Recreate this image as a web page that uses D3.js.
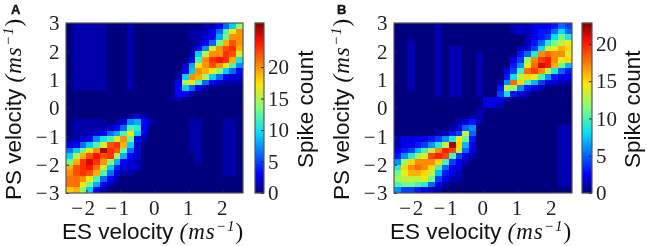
<!DOCTYPE html>
<html>
<head>
<meta charset="utf-8">
<script src="https://cdn.jsdelivr.net/npm/d3@7"></script>
<style>
  html, body { margin: 0; padding: 0; background: #fff; }
  svg { display: block; filter: blur(0.5px); }
  .tick text { font-family: "Liberation Serif", serif; font-size: 21px; fill: #222; }
  .tick line { stroke: #222; }
  .signed .tick text { letter-spacing: 1.5px; }
  .label { font-family: "Liberation Sans", sans-serif; font-size: 22.5px; fill: #111; }
  .label .math { font-family: "Liberation Serif", serif; font-style: italic; font-size: 23px; letter-spacing: 1px; }
  .letter { font-family: "Liberation Sans", sans-serif; font-weight: bold; font-size: 13px; fill: #111; stroke: #111; stroke-width: 0.4px; }
  .cell { shape-rendering: crispEdges; }
</style>
</head>
<body>
<div id="chart"></div>
<script>
// spike counts, rows run from PS = 3 down to PS = -3, columns from ES = -2.6 to 2.6
const countsA = [
  [0,1,1,1,1,1,0,0,0,1,0,0,0,0,0,0,0,0,0,0,1,1,3,6,9,14],
  [0,1,1,1,1,1,0,0,0,1,0,0,0,0,0,0,0,0,1,1,1,3,6,12,17,20],
  [0,1,1,1,1,1,0,0,0,1,0,0,0,0,0,0,0,0,1,1,2,3,8,13,20,20],
  [0,1,1,1,1,1,0,0,0,1,0,0,0,0,0,0,0,0,0,1,3,6,13,19,22,20],
  [0,1,1,1,1,1,0,0,0,1,0,0,0,0,0,0,0,0,1,3,7,16,20,22,23,19],
  [0,1,1,1,1,1,0,0,0,1,0,0,0,0,0,0,0,0,1,9,15,20,20,23,22,16],
  [0,1,1,1,1,1,0,0,0,1,0,0,0,0,0,0,0,0,3,12,20,23,24,23,19,10],
  [0,1,1,1,1,1,0,0,0,1,0,0,0,0,0,0,0,2,8,17,20,22,20,17,12,7],
  [0,1,1,1,1,1,0,0,0,1,0,0,0,0,0,0,0,3,9,20,19,17,14,9,6,3],
  [0,1,1,1,1,1,0,0,0,1,0,0,0,0,0,0,1,9,20,19,15,9,6,3,2,2],
  [0,1,1,1,1,1,0,0,0,1,0,0,0,0,0,0,3,15,17,12,6,3,2,1,1,1],
  [0,1,1,1,1,1,0,0,0,1,0,0,0,0,0,0,3,9,6,3,1,0,0,0,0,0],
  [0,0,0,0,0,0,0,0,0,0,0,0,0,0,0,0,3,3,1,0,0,0,0,0,0,0],
  [0,0,0,0,0,0,0,0,0,0,0,0,0,0,0,1,1,0,0,0,0,0,0,0,0,0],
  [0,0,0,0,0,0,0,0,0,0,0,0,0,0,0,0,0,0,0,0,0,0,0,0,0,0],
  [0,0,0,0,0,0,0,0,0,0,0,0,0,0,0,0,0,0,0,0,0,0,0,0,0,0],
  [0,0,0,0,0,0,0,0,0,1,2,1,0,0,0,0,0,0,0,0,0,0,0,0,0,0],
  [0,1,1,1,1,1,0,1,2,7,8,3,1,0,0,0,0,0,1,1,0,0,0,1,1,0],
  [0,1,1,1,1,1,2,3,6,12,11,3,0,0,0,0,0,0,1,1,0,0,0,1,1,0],
  [0,1,1,1,2,3,6,8,12,17,9,2,0,0,0,0,0,0,1,1,0,0,0,1,1,0],
  [1,1,2,3,7,10,12,16,20,13,3,1,0,0,0,0,0,0,1,1,0,0,0,1,1,0],
  [2,3,6,9,12,16,22,23,19,9,2,0,0,0,0,0,0,0,1,1,0,0,0,1,1,0],
  [6,9,13,17,20,26,23,22,13,6,2,0,0,0,0,0,0,0,1,1,0,0,0,1,1,0],
  [9,15,19,22,24,22,23,15,8,3,2,0,0,0,0,0,0,0,0,1,0,0,0,1,1,0],
  [13,19,23,25,23,20,14,8,3,2,1,0,0,0,0,0,0,0,0,1,0,0,0,1,1,0],
  [19,22,23,24,21,16,9,4,2,2,2,0,0,0,0,0,0,0,0,0,0,0,0,1,1,0],
  [20,22,23,22,19,12,6,2,1,1,0,0,0,0,0,0,0,0,0,0,0,0,0,1,1,0],
  [21,21,20,17,12,6,3,1,0,0,0,0,0,0,0,0,0,0,0,0,0,0,0,0,0,0],
  [21,21,17,13,8,3,1,0,0,0,0,0,0,0,0,0,0,0,0,0,0,0,0,0,0,0],
  [18,19,14,9,3,1,0,0,0,0,0,0,0,0,0,0,0,0,0,0,0,0,0,0,0,0]
]

const countsB = [
  [0,0,0,0,0,0,1,0,0,0,0,0,0,0,0,0,0,1,1,1,2,2,2,3,5,4],
  [0,0,0,0,0,0,1,0,0,0,0,0,0,0,0,0,0,1,2,1,2,3,3,5,8,5],
  [0,0,0,0,0,0,1,0,0,0,0,0,0,0,0,0,0,0,0,1,2,3,4,8,11,9],
  [0,0,1,0,0,0,1,0,0,0,0,0,0,0,0,0,0,0,0,1,3,5,9,11,13,14],
  [0,0,1,0,0,0,1,0,1,1,0,0,0,0,0,0,0,0,1,2,4,8,13,14,16,15],
  [0,0,1,0,0,0,1,0,1,1,0,0,1,0,0,0,0,0,3,5,9,17,18,17,17,14],
  [0,0,1,0,0,0,1,0,1,1,0,0,1,0,0,0,0,2,4,12,17,19,20,17,14,15],
  [0,0,1,0,0,0,1,0,1,1,0,0,1,0,0,0,0,3,6,14,18,21,20,16,11,7],
  [0,0,1,0,0,0,1,0,1,1,0,0,1,0,0,0,2,4,10,18,19,17,13,9,5,3],
  [0,0,1,0,0,0,1,0,1,1,0,0,1,0,0,0,3,8,13,15,14,10,6,3,2,2],
  [0,0,1,0,0,0,1,0,1,1,0,0,1,0,0,1,6,18,15,10,7,4,2,2,1,1],
  [0,0,1,0,0,0,1,0,1,1,0,0,1,0,0,3,13,12,6,3,2,1,0,0,0,0],
  [0,0,0,0,0,0,1,0,1,1,0,0,1,0,0,4,8,3,2,1,0,0,0,0,0,0],
  [0,0,0,0,0,0,0,0,0,0,0,0,0,2,2,2,1,0,0,0,0,0,0,0,0,0],
  [0,0,0,0,0,0,0,0,0,0,0,0,0,2,2,1,0,0,0,0,0,0,0,0,0,0],
  [0,0,0,0,0,0,0,0,0,0,0,0,1,0,0,0,0,0,0,0,0,0,0,0,0,0],
  [0,0,0,0,0,0,0,0,0,0,0,1,1,0,0,0,0,0,0,0,0,0,0,0,0,0],
  [0,0,0,0,0,0,0,0,0,1,2,3,1,0,0,0,0,0,0,0,0,0,0,0,0,0],
  [0,0,0,0,0,0,0,0,1,2,5,6,0,0,0,0,0,0,0,0,0,0,0,0,1,1],
  [0,0,0,0,0,0,1,1,3,4,13,5,0,0,0,0,0,0,0,0,0,0,0,0,1,1],
  [1,2,2,2,2,3,4,6,9,14,11,3,0,0,0,0,0,0,0,0,0,0,0,0,1,1],
  [1,2,2,3,4,6,9,13,22,15,7,2,0,0,0,0,0,0,0,0,0,0,0,0,1,1],
  [2,3,4,7,10,13,17,20,19,13,5,2,0,0,0,0,0,0,0,0,0,0,0,0,1,1],
  [3,6,9,12,14,19,20,19,10,4,2,1,0,0,0,0,0,0,0,0,0,0,0,0,1,1],
  [6,12,15,17,17,17,15,10,4,2,1,0,0,0,0,0,0,0,0,0,0,0,0,0,1,1],
  [9,15,17,18,17,15,10,5,2,2,0,0,0,0,0,0,0,0,0,0,0,0,0,0,1,1],
  [11,14,16,16,15,13,7,3,2,1,0,0,0,0,0,0,0,0,0,0,0,0,0,0,1,1],
  [12,13,13,13,14,11,4,2,1,1,0,0,0,0,0,0,0,0,0,0,0,0,0,0,1,1],
  [10,11,11,10,9,5,2,1,0,0,0,0,0,0,0,0,0,0,0,0,0,0,0,0,1,1],
  [6,4,4,3,2,1,1,0,0,0,0,0,0,0,0,0,0,0,0,0,0,0,0,0,0,0]
]

const xTicks = [-2, -1, 0, 1, 2]
const yTicks = [-3, -2, -1, 0, 1, 2, 3]
const barTicksA = [0, 5, 10, 15, 20]
const barTicksB = [0, 5, 10, 15, 20]
const maxA = 27
const maxB = 22.8

const jetStops = [0, 0.11, 0.35, 0.5, 0.64, 0.89, 1]
const jetColors = ['#00007f', '#0000ff', '#00e0ff', '#7dff7a', '#ffe600', '#ff1000', '#7f0000']

const width = 648
const height = 246
const plotTop = 23
const plotBottom = 193
const xDomain = [-2.6, 2.6]
const yDomain = [-3, 3]

const svg = d3
  .select('#chart')
  .append('svg')
  .attr('width', width)
  .attr('height', height)

function drawPanel(counts, maxCount, barTicks, letter, opts) {
  const color = d3.scaleLinear().domain(jetStops.map(s => s * maxCount)).range(jetColors)
  const x = d3.scaleLinear().domain(xDomain).range([opts.left, opts.right])
  const y = d3.scaleLinear().domain(yDomain).range([plotBottom, plotTop])
  const g = svg.append('g')

  /* Heat cells */
  counts.forEach((row, r) => {
    row.forEach((v, c) => {
      const x0 = xDomain[0] + c * 0.2
      const y0 = yDomain[1] - r * 0.2
      g.append('rect')
        .attr('class', 'cell')
        .attr('x', x(x0))
        .attr('y', y(y0))
        .attr('width', x(x0 + 0.2) - x(x0))
        .attr('height', y(y0 - 0.2) - y(y0))
        .attr('fill', color(v))
    })
  })

  /* Axes */
  g.append('g')
    .attr('class', 'signed')
    .attr('transform', `translate(0, ${plotBottom})`)
    .call(d3.axisBottom(x).tickValues(xTicks).tickSize(-3).tickPadding(7).tickFormat(d3.format('d')))
    .call(a => a.select('.domain').remove())
    .call(a => a.selectAll('text').attr('dx', d => d < 0 ? -3 : 0))

  g.append('g')
    .attr('class', 'signed')
    .attr('transform', `translate(${opts.left}, 0)`)
    .call(d3.axisLeft(y).tickValues(yTicks).tickSize(-3).tickPadding(5).tickFormat(d3.format('d')))
    .call(a => a.select('.domain').remove())

  g.append('rect')
    .attr('x', opts.left)
    .attr('y', plotTop)
    .attr('width', opts.right - opts.left)
    .attr('height', plotBottom - plotTop)
    .attr('fill', 'none')
    .attr('stroke', '#555')
    .attr('stroke-width', 1.2)

  /* Colour bar */
  const barY = d3.scaleLinear().domain([0, maxCount]).range([plotBottom, plotTop])
  const barG = g.append('g')
  barG.selectAll('rect')
    .data(d3.range(0, maxCount, maxCount / 170))
    .enter()
    .append('rect')
    .attr('x', opts.barLeft)
    .attr('y', d => barY(d) - 1.2)
    .attr('width', opts.barWidth)
    .attr('height', 1.4)
    .attr('fill', d => color(d))

  g.append('g')
    .attr('transform', `translate(${opts.barLeft + opts.barWidth}, 0)`)
    .call(d3.axisRight(barY).tickValues(barTicks).tickSize(-3).tickPadding(4))
    .call(a => a.select('.domain').remove())

  g.append('rect')
    .attr('x', opts.barLeft)
    .attr('y', plotTop)
    .attr('width', opts.barWidth)
    .attr('height', plotBottom - plotTop)
    .attr('fill', 'none')
    .attr('stroke', '#555')
    .attr('stroke-width', 1.2)

  /* Labels */
  const xLabel = g.append('text')
    .attr('class', 'label')
    .attr('x', opts.left - 4)
    .attr('y', 239)
  xLabel.append('tspan').text('ES velocity ')
  appendUnit(xLabel)

  const yLabel = g.append('text')
    .attr('class', 'label')
    .attr('transform', `translate(${opts.left - 45}, 200) rotate(-90)`)
  yLabel.append('tspan').text('PS velocity ')
  appendUnit(yLabel)

  g.append('text')
    .attr('class', 'label')
    .attr('transform', `translate(${opts.barLeft + 58}, 168) rotate(-90)`)
    .text('Spike count')

  g.append('text')
    .attr('class', 'letter')
    .attr('x', opts.letterX)
    .attr('y', 14)
    .text(letter)
}

function appendUnit(text) {
  text.append('tspan').attr('class', 'math').text('(ms')
  text.append('tspan').attr('class', 'math').attr('dy', -8).style('font-size', '15px').text('\u22121')
  text.append('tspan').attr('class', 'math').attr('dy', 8).style('font-style', 'normal').text(')')
}

drawPanel(countsA, maxA, barTicksA, 'A', { left: 66, right: 243, barLeft: 255, barWidth: 9, letterX: 11 })
drawPanel(countsB, maxB, barTicksB, 'B', { left: 394, right: 572, barLeft: 582, barWidth: 10, letterX: 337 })
</script>
</body>
</html>
